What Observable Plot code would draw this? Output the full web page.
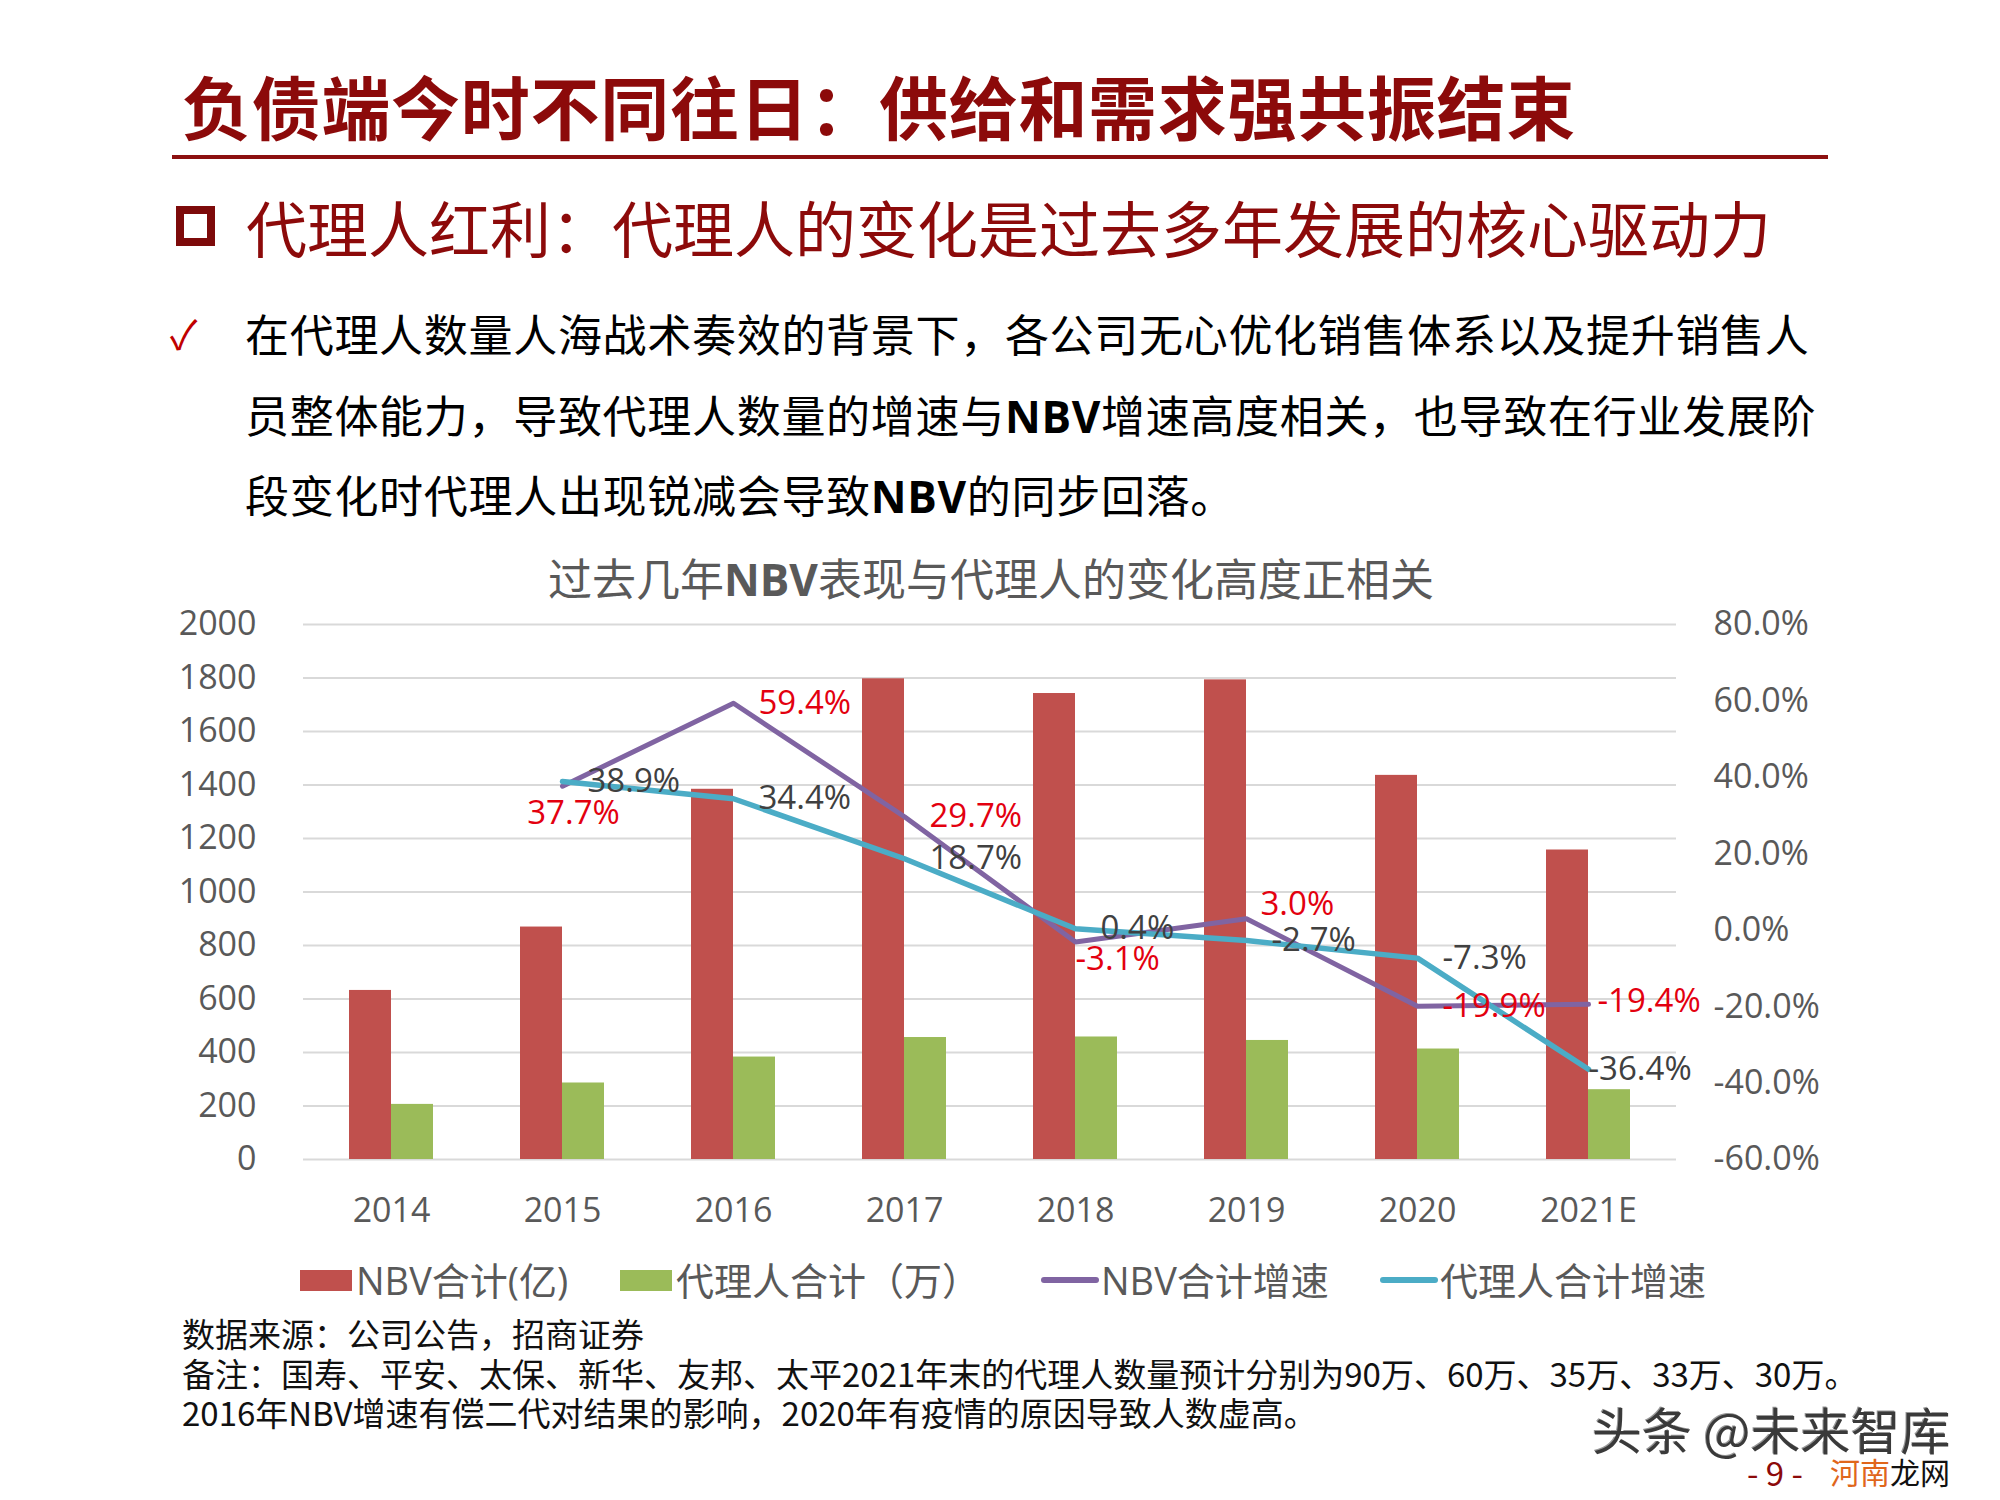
<!DOCTYPE html>
<html><head><meta charset="utf-8">
<script src="https://cdn.jsdelivr.net/npm/d3@7"></script>
<script src="https://cdn.jsdelivr.net/npm/@observablehq/plot@0.6"></script>
<style>
html,body{margin:0;padding:0;background:#fff;}
body{width:2000px;height:1500px;position:relative;overflow:hidden;font-family:"Noto Sans CJK SC","Open Sans",sans-serif;}
.abs{position:absolute;white-space:nowrap;line-height:1;}
.num{font-family:"Open Sans","Noto Sans CJK SC",sans-serif;}
</style></head><body>
<div id="chart" style="position:absolute;left:0;top:600px;"></div>

<div class="abs" style="left:182px;top:71px;font-size:69px;letter-spacing:0.7px;font-weight:700;color:#8c0a0a;">负债端今时不同往日：供给和需求强共振结束</div>
<div style="position:absolute;left:172px;top:155px;width:1656px;height:4px;background:#8c1010;"></div>

<div style="position:absolute;left:176px;top:206px;width:23px;height:24px;border:8px solid #7d0a0a;"></div>
<div class="abs" style="left:246px;top:196px;font-size:61px;color:#8c0a0a;">代理人红利：代理人的变化是过去多年发展的核心驱动力</div>

<div class="abs" style="left:170px;top:312px;font-size:40px;color:#c00000;">✓</div>
<div class="abs" style="left:245px;top:311px;font-size:44px;letter-spacing:0.7px;color:#000;">在代理人数量人海战术奏效的背景下，各公司无心优化销售体系以及提升销售人</div>
<div class="abs" style="left:245px;top:392px;font-size:44px;letter-spacing:0.7px;color:#000;">员整体能力，导致代理人数量的增速与<b class="num">NBV</b>增速高度相关，也导致在行业发展阶</div>
<div class="abs" style="left:245px;top:472px;font-size:44px;letter-spacing:0.7px;color:#000;">段变化时代理人出现锐减会导致<b class="num">NBV</b>的同步回落。</div>

<div class="abs" style="left:548px;top:555px;font-size:44px;color:#595959;">过去几年<b class="num">NBV</b>表现与代理人的变化高度正相关</div>

<div id="legend" style="position:absolute;left:0;top:1258px;height:44px;width:2000px;font-size:38px;color:#595959;"></div>

<div class="abs" style="left:182px;top:1317px;font-size:33px;color:#111;">数据来源：公司公告，招商证券</div>
<div class="abs" style="left:182px;top:1357px;font-size:33px;color:#111;">备注：国寿、平安、太保、新华、友邦、太平2021年末的代理人数量预计分别为90万、60万、35万、33万、30万。</div>
<div class="abs" style="left:182px;top:1396px;font-size:33px;color:#111;">2016年NBV增速有偿二代对结果的影响，2020年有疫情的原因导致人数虚高。</div>

<div class="abs" style="left:1592px;top:1403px;font-size:50px;color:#3a3a3a;text-shadow:2px 2px 0 #fff,-1px -1px 0 #999;">头条 @未来智库</div>
<div class="abs" style="left:1747px;top:1456px;font-size:33px;color:#8c0a0a;">- 9 -</div>
<div class="abs" style="left:1830px;top:1456px;font-size:30px;"><span style="color:#e0661b;">河南</span><span style="color:#111;">龙网</span></div>

<script>
// ---- data ----
const years = ["2014", "2015", "2016", "2017", "2018", "2019", "2020", "2021E"];
const nbvTotal = [632, 869, 1384, 1797, 1742, 1793, 1436, 1157];      // NBV合计(亿)
const agentTotal = [206, 286, 383, 456, 458, 445, 413, 261];          // 代理人合计（万）
const nbvGrowth = [null, 37.7, 59.4, 29.7, -3.1, 3.0, -19.9, -19.4];  // NBV合计增速 (%)
const agentGrowth = [null, 38.9, 34.4, 18.7, 0.4, -2.7, -7.3, -36.4]; // 代理人合计增速 (%)
const leftTicks = [0, 200, 400, 600, 800, 1000, 1200, 1400, 1600, 1800, 2000];
const rightTicks = [-60, -40, -20, 0, 20, 40, 60, 80];
const seriesNames = ["NBV合计(亿)", "代理人合计（万）", "NBV合计增速", "代理人合计增速"];
const colors = ["#C0504D", "#9BBB59", "#8064A2", "#4BACC6"];

// ---- derived tables ----
const leftMax = 2000, pMin = -60, pMax = 80;
const pctToY = p => (p - pMin) / (pMax - pMin) * leftMax;
const yToPct = v => Math.round(v / leftMax * (pMax - pMin) + pMin);
const rows = years.map((y, i) => ({year: y, nbv: nbvTotal[i], agent: agentTotal[i], ng: nbvGrowth[i], ag: agentGrowth[i]}));
const growthRows = rows.filter(d => d.ng != null);
const fmt = p => p.toFixed(1) + "%";
const redLabel = "#e3000f", darkLabel = "#404040";
const numFont = "'Open Sans','Noto Sans CJK SC',sans-serif";

const W = 2000, H = 650;
const chart = Plot.plot({
  width: W, height: H,
  marginLeft: 303, marginRight: 324, marginTop: 24, marginBottom: 91,
  style: {background: "transparent", fontFamily: numFont, fontSize: "34px", color: "#595959"},
  x: {type: "band", domain: years, paddingInner: 0.755, paddingOuter: 0.3775, axis: null},
  y: {domain: [0, leftMax], axis: null},
  marks: [
    Plot.ruleY(leftTicks, {stroke: "#d9d9d9", strokeWidth: 2}),
    Plot.axisY(leftTicks, {anchor: "left", tickSize: 0, tickPadding: 47, fontSize: 34, fill: "#595959", label: null,
      tickFormat: d => String(d)}),
    Plot.axisY(rightTicks.map(pctToY), {anchor: "right", tickSize: 0, tickPadding: 37, fontSize: 34, fill: "#595959", label: null,
      tickFormat: v => yToPct(v).toFixed(1) + "%"}),
    Plot.axisX(years, {anchor: "bottom", tickSize: 0, tickPadding: 38, fontSize: 34, fill: "#595959", label: null}),
    Plot.barY(rows, {x: "year", y: "nbv", fill: colors[0], dx: -21}),
    Plot.barY(rows, {x: "year", y: "agent", fill: colors[1], dx: 21}),
    Plot.line(growthRows, {x: "year", y: d => pctToY(d.ng), stroke: colors[2], strokeWidth: 5, strokeLinejoin: "round"}),
    Plot.line(growthRows, {x: "year", y: d => pctToY(d.ag), stroke: colors[3], strokeWidth: 5.5, strokeLinejoin: "round"}),
    // agent growth labels (dark)
    Plot.text(growthRows, {filter: d => d.year !== "2021E", x: "year", y: d => pctToY(d.ag), text: d => fmt(d.ag),
      textAnchor: "start", dx: 25, fill: darkLabel, fontSize: 33}),
    Plot.text(growthRows, {filter: d => d.year === "2021E", x: "year", y: d => pctToY(d.ag), text: d => fmt(d.ag),
      textAnchor: "start", dx: 0, fill: darkLabel, fontSize: 33}),
    // NBV growth labels (red)
    Plot.text(growthRows, {filter: d => ["2016", "2017", "2020"].includes(d.year), x: "year", y: d => pctToY(d.ng), text: d => fmt(d.ng),
      textAnchor: "start", dx: 25, fill: redLabel, fontSize: 33}),
    Plot.text(growthRows, {filter: d => d.year === "2015", x: "year", y: d => pctToY(d.ng), text: d => fmt(d.ng),
      textAnchor: "middle", dx: 11, dy: 27, fill: redLabel, fontSize: 33}),
    Plot.text(growthRows, {filter: d => d.year === "2018", x: "year", y: d => pctToY(d.ng), text: d => fmt(d.ng),
      textAnchor: "start", dx: 0, dy: 17, fill: redLabel, fontSize: 33}),
    Plot.text(growthRows, {filter: d => d.year === "2019", x: "year", y: d => pctToY(d.ng), text: d => fmt(d.ng),
      textAnchor: "start", dx: 14, dy: -14, fill: redLabel, fontSize: 33}),
    Plot.text(growthRows, {filter: d => d.year === "2021E", x: "year", y: d => pctToY(d.ng), text: d => fmt(d.ng),
      textAnchor: "start", dx: 9, dy: -3, fill: redLabel, fontSize: 33})
  ]
});
document.getElementById("chart").appendChild(chart);

// ---- legend ----
const legend = document.getElementById("legend");
const legendX = [300, 620, 1041, 1380];
seriesNames.forEach((name, i) => {
  const item = document.createElement("div");
  item.style.cssText = `position:absolute;left:${legendX[i]}px;top:0;height:44px;display:flex;align-items:center;white-space:nowrap;`;
  const sw = document.createElement("span");
  if (i < 2) sw.style.cssText = `display:inline-block;width:52px;height:21px;background:${colors[i]};margin-right:4px;`;
  else sw.style.cssText = `display:inline-block;width:58px;height:6px;border-radius:3px;background:${colors[i]};margin-right:2px;`;
  const tx = document.createElement("span");
  tx.textContent = name;
  tx.style.cssText = `font-family:${numFont};line-height:1;`;
  item.appendChild(sw); item.appendChild(tx);
  legend.appendChild(item);
});
</script>
</body></html>
